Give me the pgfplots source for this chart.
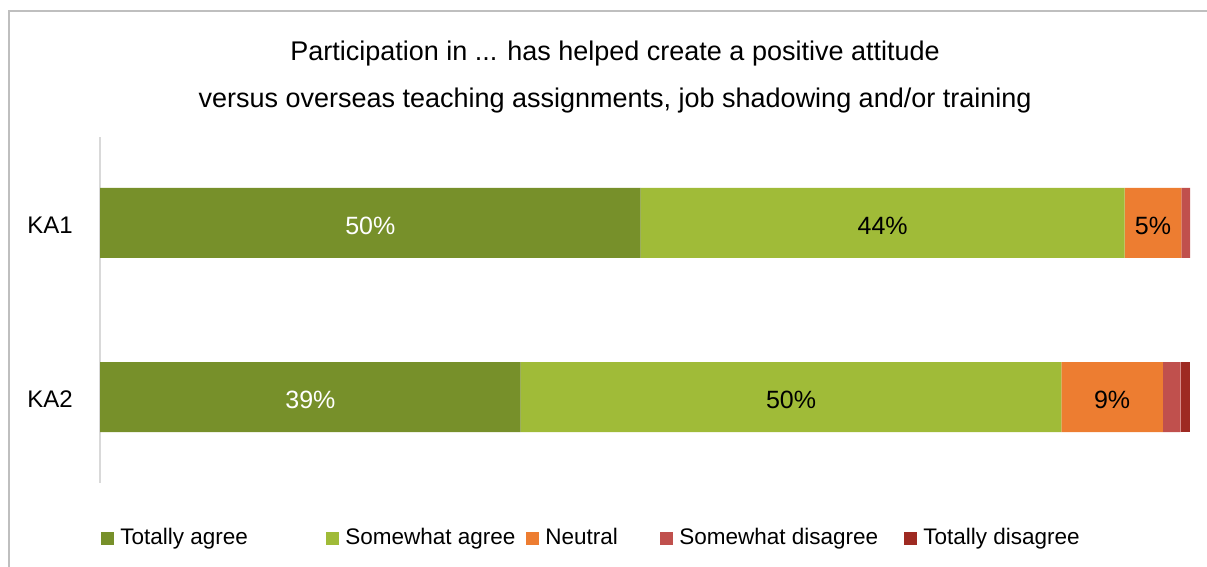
\documentclass[border=0pt]{standalone}
\usepackage{fontspec}
\setmainfont{Liberation Sans}
\usepackage{pgfplots}
\pgfplotsset{compat=1.18}
\definecolor{ta}{RGB}{119,144,42}
\definecolor{sa}{RGB}{160,187,56}
\definecolor{ne}{RGB}{237,125,49}
\definecolor{sd}{RGB}{192,80,77}
\definecolor{td}{RGB}{158,42,34}
\definecolor{frame}{RGB}{191,191,191}
\definecolor{axl}{RGB}{217,217,217}
\pgfplotsset{sq/.style={legend image code/.code={\fill[##1,draw=none] (0bp,-6.5bp) rectangle (13bp,6.5bp);}}}
\begin{document}
\fontsize{22.5bp}{27bp}\selectfont
\begin{tikzpicture}
\useasboundingbox (0,0) rectangle (1207bp,567bp);
\draw[frame, line width=2bp] (9bp,-10bp) -- (9bp,556bp) -- (1230bp,556bp);
\node[font=\fontsize{27bp}{32bp}\selectfont] at (615bp,513bp) {Participation in ... has helped create a positive attitude};
\node[font=\fontsize{27bp}{32bp}\selectfont] at (615bp,466bp) {versus overseas teaching assignments, job shadowing and/or training};
\begin{axis}[
  at={(100bp,84bp)}, anchor=south west,
  scale only axis, width=1090bp, height=346bp,
  xbar stacked, bar width=70bp,
  xmin=0, xmax=100,
  y dir=reverse, ymin=-0.494, ymax=1.494,
  ytick={0,1}, yticklabels={KA1,KA2},
  major tick length=0pt,
  yticklabel style={inner sep=0pt, xshift=-27bp, yshift=-2bp, font=\fontsize{24bp}{28bp}\selectfont},
  xtick=\empty,
  axis x line=none,
  axis y line*=left,
  y axis line style={draw=axl, line width=1.5bp, -},
  legend columns=5,
  legend style={at={(axis description cs:0.001,-0.159)}, anchor=west, draw=none, fill=none,
    inner sep=0pt, column sep=0pt,
    nodes={inner sep=0pt, anchor=west, font=\fontsize{22.5bp}{27bp}\selectfont}},
]
\addplot[fill=ta, draw=none, sq] coordinates {(49.6,0) (38.6,1)};
\addplot[fill=sa, draw=none, sq] coordinates {(44.4,0) (49.6,1)};
\addplot[fill=ne, draw=none, sq] coordinates {(5.2,0) (9.3,1)};
\addplot[fill=sd, draw=none, sq] coordinates {(0.8,0) (1.65,1)};
\addplot[fill=td, draw=none, sq] coordinates {(0,0) (0.85,1)};
\legend{\hspace{6bp}\makebox[206bp][l]{Totally agree},
        \hspace{6bp}\makebox[181bp][l]{Somewhat agree},
        \hspace{6bp}\makebox[115bp][l]{Neutral},
        \hspace{6bp}\makebox[225bp][l]{Somewhat disagree},
        \hspace{6bp}Totally disagree}
\coordinate (a1) at (axis cs:24.8,0);
\coordinate (a2) at (axis cs:71.8,0);
\coordinate (a3) at (axis cs:96.6,0);
\coordinate (b1) at (axis cs:19.3,1);
\coordinate (b2) at (axis cs:63.4,1);
\coordinate (b3) at (axis cs:92.85,1);
\end{axis}
\begin{scope}[every node/.style={font=\fontsize{25bp}{30bp}\selectfont, yshift=-3bp}]
\node[white] at (a1) {50\%};
\node at (a2) {44\%};
\node at (a3) {5\%};
\node[white] at (b1) {39\%};
\node at (b2) {50\%};
\node at (b3) {9\%};
\end{scope}
\end{tikzpicture}
\end{document}
